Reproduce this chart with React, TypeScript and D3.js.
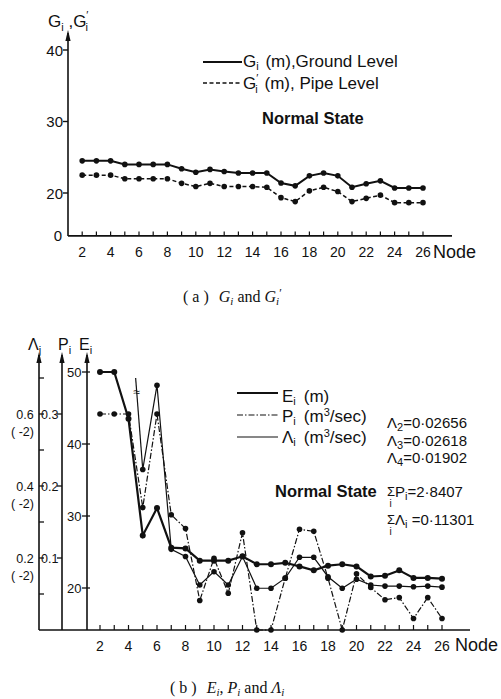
import React from 'react';
import * as d3 from 'd3';

// ---------- data: (a) ground / pipe level ----------
const nodes = [2, 3, 4, 5, 6, 7, 8, 9, 10, 11, 12, 13, 14, 15, 16, 17, 18, 19, 20, 21, 22, 23, 24, 25, 26];
const groundLevel = [24.5, 24.5, 24.5, 24.0, 24.0, 24.0, 24.0, 23.4, 22.9, 23.3, 23.0, 22.8, 22.8, 22.8, 21.4, 21.0, 22.4, 22.8, 22.4, 20.8, 21.3, 21.7, 20.7, 20.7, 20.7];
const pipeLevel = [22.5, 22.5, 22.5, 22.0, 22.0, 22.0, 22.0, 21.35, 20.9, 21.35, 20.9, 20.9, 20.9, 20.8, 19.35, 18.8, 20.3, 20.8, 20.2, 18.8, 19.25, 19.7, 18.65, 18.65, 18.65];
const gTicks = [20, 30, 40];
const nodeTickLabels = [2, 4, 6, 8, 10, 12, 14, 16, 18, 20, 22, 24, 26];

// ---------- data: (b) E, P, Lambda ----------
const energyHead = [50, 50, 43.5, 27.3, 31.1, 25.6, 25.5, 23.8, 23.8, 23.8, 24.4, 23.3, 23.3, 23.5, 23.0, 22.45, 23.1, 23.3, 23.0, 21.6, 21.7, 22.45, 21.4, 21.4, 21.3];
const supplyP = [0.3, 0.3, 0.3, 0.17, 0.3, 0.16, 0.141, 0.041, 0.0995, 0.051, 0.135, 0, 0, 0.072, 0.14, 0.137, 0.072, 0, 0.078, 0.059, 0.042, 0.045, 0.016, 0.045, 0.016];
const leakNodes = [5, 6, 7, 8, 9, 10, 11, 12, 13, 14, 15, 16, 17, 18, 19, 20, 21, 22, 23, 24, 25, 26];
const leakage = [0.446, 0.68, 0.224, 0.204, 0.125, 0.162, 0.125, 0.204, 0.116, 0.116, 0.144, 0.202, 0.202, 0.148, 0.116, 0.141, 0.125, 0.122, 0.122, 0.120, 0.122, 0.119]; // x 1e-2
const offScaleLeak = ['0·02656', '0·02618', '0·01902'];
const offScaleIdx = ['2', '3', '4'];
const eTicks = [20, 30, 40, 50];
const pTicks = [0.1, 0.2, 0.3];
const lamMajor = [0.2, 0.4, 0.6];
const lamMinor = [0.1, 0.3, 0.5, 0.7];

const SANS = "'Liberation Sans', Arial, sans-serif";
const SERIF = "'Liberation Serif', 'Times New Roman', serif";
const INK = '#111';

function Arrow({ x, y }: { x: number; y: number }) {
  return <path d={`M${x},${y} L${x - 2.6},${y + 11} L${x + 2.6},${y + 11} Z`} fill={INK} />;
}

export default function App() {
  // (a) scales
  const xTop = d3.scaleLinear().domain([1, 28]).range([68, 451.4]);
  const yG = d3.scaleLinear().domain([20, 40]).range([193, 50]);
  const topBase = yG(14);
  const topAxisX = xTop(1);

  const lineTop = d3.line<number>().x((_, i) => xTop(nodes[i])).y((d) => yG(d));

  // (b) scales
  const xB = d3.scaleLinear().domain([1, 26]).range([85.75, 442]);
  const yE = d3.scaleLinear().domain([20, 50]).range([588, 372]);
  const yP = d3.scaleLinear().domain([0, 0.3]).range([630, 414]);
  const yL = d3.scaleLinear().domain([0, 0.6]).range([630, 414]);
  const botBase = 630;
  const lamX = 39, pX = 62, eX = 87;
  const axTop = 352;

  const lineE = d3.line<number>().x((_, i) => xB(nodes[i])).y((d) => yE(d));
  const lineP = d3.line<number>().x((_, i) => xB(nodes[i])).y((d) => yP(d));
  const lineL = d3.line<number>().x((_, i) => xB(leakNodes[i])).y((d) => yL(d));

  const breakStart: [number, number] = [xB(4.5), yL(0.7)];
  const breakEnd: [number, number] = [xB(leakNodes[0]), yL(leakage[0])];
  const breakMark: [number, number] = [
    breakStart[0] + (breakEnd[0] - breakStart[0]) * 0.15,
    breakStart[1] + (breakEnd[1] - breakStart[1]) * 0.15,
  ];

  return (
    <svg width={501} height={699} style={{ position: 'absolute', left: 0, top: 0, background: '#fff' }}
      fontFamily={SANS} fill={INK}>
      <rect x={0} y={0} width={501} height={699} fill="#fff" />

      {/* ================= (a) ================= */}
      <text x={48} y={27} fontSize={17}>G<tspan fontSize={11} dy={4}>i</tspan><tspan dy={-4}> ,G</tspan><tspan fontSize={11} dy={-8}>′</tspan><tspan fontSize={11} dx={-3} dy={12}>i</tspan></text>
      <line x1={topAxisX} x2={topAxisX} y1={topBase} y2={33} stroke={INK} strokeWidth={1.6} />
      <Arrow x={topAxisX} y={30} />
      <line x1={topAxisX} x2={452} y1={topBase} y2={topBase} stroke={INK} strokeWidth={1.6} />
      {gTicks.map((t) => (
        <g key={t}>
          <line x1={topAxisX - 5} x2={topAxisX} y1={yG(t)} y2={yG(t)} stroke={INK} strokeWidth={1.4} />
          <text x={63} y={yG(t) + 5.5} fontSize={15} textAnchor="end">{t}</text>
        </g>
      ))}
      <text x={62} y={topBase + 5.5} fontSize={15} textAnchor="end">0</text>
      {nodes.map((n) => (
        <line key={n} x1={xTop(n)} x2={xTop(n)} y1={topBase} y2={topBase - 4.5} stroke={INK} strokeWidth={1.2} />
      ))}
      {nodeTickLabels.map((n) => (
        <text key={n} x={xTop(n)} y={257} fontSize={14} textAnchor="middle">{n}</text>
      ))}
      <text x={433} y={258} fontSize={18}>Node</text>

      <path d={lineTop(groundLevel) || ''} fill="none" stroke={INK} strokeWidth={2} />
      <path d={lineTop(pipeLevel) || ''} fill="none" stroke={INK} strokeWidth={1.5} strokeDasharray="4,2.5" />
      {groundLevel.map((v, i) => <circle key={'g' + i} cx={xTop(nodes[i])} cy={yG(v)} r={2.8} fill={INK} />)}
      {pipeLevel.map((v, i) => <circle key={'p' + i} cx={xTop(nodes[i])} cy={yG(v)} r={2.8} fill={INK} />)}

      {/* legend (a) */}
      <line x1={203} x2={242} y1={62} y2={62} stroke={INK} strokeWidth={1.8} />
      <text x={243} y={67} fontSize={17}>G<tspan fontSize={11} dy={2.5}>i</tspan><tspan dy={-2.5} dx={2}> (m),Ground Level</tspan></text>
      <line x1={203} x2={242} y1={83} y2={83} stroke={INK} strokeWidth={1.4} strokeDasharray="4,2.5" />
      <text x={243} y={89} fontSize={17}>G<tspan fontSize={11} dy={-7}>′</tspan><tspan fontSize={11} dx={-3} dy={11}>i</tspan><tspan dy={-4} dx={2}> (m), Pipe  Level</tspan></text>
      <text x={262} y={124} fontSize={16.5} fontWeight="bold">Normal State</text>

      {/* caption (a) */}
      <text x={183} y={302} fontSize={16} fontFamily={SERIF}>( a )<tspan dx={10} fontStyle="italic">G</tspan><tspan fontSize={11} dy={3} fontStyle="italic">i</tspan><tspan dy={-3}> and </tspan><tspan fontStyle="italic">G</tspan><tspan fontSize={11} dy={3} fontStyle="italic">i</tspan><tspan dy={-8} fontSize={12}>′</tspan></text>

      {/* ================= (b) ================= */}
      <text x={28} y={350} fontSize={16}>Λ<tspan fontSize={11} dy={4}>j</tspan></text>
      <text x={58} y={350} fontSize={16}>P<tspan fontSize={11} dy={4}>i</tspan></text>
      <text x={79} y={350} fontSize={16}>E<tspan fontSize={11} dy={4}>i</tspan></text>

      {[lamX, pX, eX].map((x) => (
        <g key={x}>
          <line x1={x} x2={x} y1={botBase} y2={axTop + 3} stroke={INK} strokeWidth={1.6} />
          <Arrow x={x} y={axTop} />
        </g>
      ))}
      <line x1={lamX} x2={470} y1={botBase} y2={botBase} stroke={INK} strokeWidth={1.6} />

      {/* lambda axis ticks */}
      {[...lamMajor, ...lamMinor].map((t) => (
        <line key={'lt' + t} x1={lamX} x2={lamX + 5} y1={yL(t)} y2={yL(t)} stroke={INK} strokeWidth={1.3} />
      ))}
      {lamMajor.map((t) => (
        <g key={'ll' + t}>
          <text x={25} y={yL(t) + 5} fontSize={12.5} textAnchor="middle">{t.toFixed(1)}</text>
          <text x={22.5} y={yL(t) + 22} fontSize={12.5} textAnchor="middle">( -2)</text>
        </g>
      ))}
      {/* P axis ticks */}
      {pTicks.map((t) => (
        <g key={'pt' + t}>
          <line x1={pX - 5} x2={pX} y1={yP(t)} y2={yP(t)} stroke={INK} strokeWidth={1.3} />
          <text x={58.5} y={yP(t) + 4.5} fontSize={12.5} textAnchor="end">{t.toFixed(1)}</text>
        </g>
      ))}
      {/* E axis ticks */}
      {eTicks.map((t) => (
        <g key={'et' + t}>
          <line x1={eX - 5} x2={eX + 3} y1={yE(t)} y2={yE(t)} stroke={INK} strokeWidth={1.3} />
          <text x={81.5} y={yE(t) + 4.5} fontSize={13} textAnchor="end">{t}</text>
        </g>
      ))}
      {nodes.map((n) => (
        <line key={'bx' + n} x1={xB(n)} x2={xB(n)} y1={botBase} y2={botBase - 5} stroke={INK} strokeWidth={1.2} />
      ))}
      {nodeTickLabels.map((n) => (
        <text key={'bl' + n} x={xB(n)} y={650.5} fontSize={14} textAnchor="middle">{n}</text>
      ))}
      <text x={455} y={651} fontSize={18}>Node</text>

      {/* series */}
      <path d={lineP(supplyP) || ''} fill="none" stroke={INK} strokeWidth={1.2} strokeDasharray="6,2,1.5,2" />
      <path d={lineL(leakage) || ''} fill="none" stroke={INK} strokeWidth={1.2} />
      <path d={`M${breakStart[0]},${breakStart[1]} L${breakEnd[0]},${breakEnd[1]}`} fill="none" stroke={INK} strokeWidth={1.2} />
      <text x={breakMark[0]} y={breakMark[1] + 4} fontSize={12} textAnchor="middle">≈</text>
      <path d={lineE(energyHead) || ''} fill="none" stroke={INK} strokeWidth={2.2} />
      {supplyP.map((v, i) => <circle key={'sp' + i} cx={xB(nodes[i])} cy={yP(v)} r={2.8} fill={INK} />)}
      {leakage.map((v, i) => <circle key={'lk' + i} cx={xB(leakNodes[i])} cy={yL(v)} r={2.8} fill={INK} />)}
      {energyHead.map((v, i) => <circle key={'eh' + i} cx={xB(nodes[i])} cy={yE(v)} r={3} fill={INK} />)}

      {/* legend (b) */}
      <line x1={237} x2={278} y1={393} y2={393} stroke={INK} strokeWidth={2} />
      <text x={282} y={402} fontSize={17}>E<tspan fontSize={11} dy={3}>i</tspan><tspan dy={-3} dx={8}>(m)</tspan></text>
      <line x1={237} x2={278} y1={415} y2={415} stroke={INK} strokeWidth={1.2} strokeDasharray="6,2,1.5,2" />
      <text x={282} y={422} fontSize={17}>P<tspan fontSize={11} dy={3}>i</tspan><tspan dy={-3} dx={8}>(m</tspan><tspan fontSize={11} dy={-6}>3</tspan><tspan dy={6}>/sec)</tspan></text>
      <line x1={237} x2={278} y1={437} y2={437} stroke={INK} strokeWidth={1.2} />
      <text x={282} y={443} fontSize={17}>Λ<tspan fontSize={11} dy={3}>i</tspan><tspan dy={-3} dx={8}>(m</tspan><tspan fontSize={11} dy={-6}>3</tspan><tspan dy={6}>/sec)</tspan></text>

      {offScaleLeak.map((v, i) => (
        <text key={'os' + i} x={387} y={428 + i * 17.5} fontSize={15}>Λ<tspan fontSize={11} dy={3}>{offScaleIdx[i]}</tspan><tspan dy={-3}>={v}</tspan></text>
      ))}
      <text x={275} y={497} fontSize={16.5} fontWeight="bold">Normal State</text>
      <text x={387} y={496} fontSize={13}>Σ</text>
      <text x={389.5} y={507} fontSize={10}>i</text>
      <text x={395} y={497} fontSize={15}>P<tspan fontSize={11} dy={3}>i</tspan><tspan dy={-3}>=2·8407</tspan></text>
      <text x={387} y={524} fontSize={13}>Σ</text>
      <text x={389.5} y={535} fontSize={10}>i</text>
      <text x={395} y={525} fontSize={15}>Λ<tspan fontSize={11} dy={3}>i</tspan><tspan dy={-3}> =0·11301</tspan></text>

      {/* caption (b) */}
      <text x={170} y={693} fontSize={16} fontFamily={SERIF}>( b )<tspan dx={10} fontStyle="italic">E</tspan><tspan fontSize={11} dy={3} fontStyle="italic">i</tspan><tspan dy={-3}>, </tspan><tspan fontStyle="italic">P</tspan><tspan fontSize={11} dy={3} fontStyle="italic">i</tspan><tspan dy={-3}> and </tspan><tspan fontStyle="italic">Λ</tspan><tspan fontSize={11} dy={3} fontStyle="italic">i</tspan></text>
    </svg>
  );
}
